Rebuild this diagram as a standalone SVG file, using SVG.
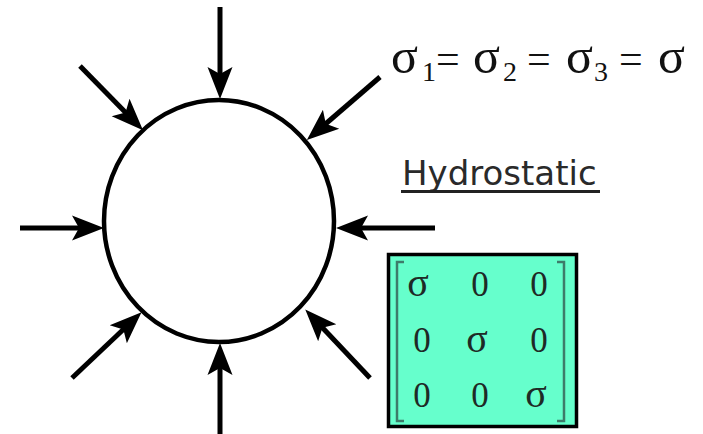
<svg xmlns="http://www.w3.org/2000/svg" width="703" height="434" viewBox="0 0 703 434">
<style>
.arr{stroke:#000;stroke-width:5;fill:none;marker-end:url(#ah)}
.eq{font-family:"Liberation Serif","Times New Roman",serif;fill:#111}
.s{font-size:50px}
.sub{font-size:28px}
.op{font-size:42px}
.m{font-family:"Liberation Serif","Times New Roman",serif;font-size:35px;fill:#1e2a26;text-anchor:middle}
.ms{font-size:40px}
.br{stroke:#3d7b6a;stroke-width:2.5;fill:none}
</style>
<defs>
<marker id="ah" markerUnits="userSpaceOnUse" orient="auto" refX="0" refY="0" markerWidth="60" markerHeight="60" viewBox="-20 -20 60 40" overflow="visible">
<path d="M20,0 L-12,-12.5 L-5,0 L-12,12.5 Z" fill="#000"/>
</marker>
</defs>
<rect width="703" height="434" fill="#fff"/>
<g id="circle">
<ellipse cx="219" cy="221" rx="115" ry="121" fill="#fff" stroke="#000" stroke-width="4.5"/>
</g>
<g id="connectors">
<line class="arr" x1="220" y1="7" x2="220" y2="79"/>
<line class="arr" x1="80" y1="66" x2="129" y2="116"/>
<line class="arr" x1="380" y1="77" x2="322" y2="127"/>
<line class="arr" x1="20" y1="228" x2="84" y2="228"/>
<line class="arr" x1="435" y1="228" x2="356" y2="228"/>
<line class="arr" x1="220" y1="434" x2="220" y2="363"/>
<line class="arr" x1="72" y1="378" x2="127" y2="326"/>
<line class="arr" x1="370" y1="378" x2="319" y2="324"/>
</g>
<g id="equation" class="eq">
<text x="391" y="73" class="s">σ</text>
<text x="422" y="81" class="sub">1</text>
<text x="436" y="73" class="op">=</text>
<text x="473" y="73" class="s">σ</text>
<text x="503" y="81" class="sub">2</text>
<text x="527" y="73" class="op">=</text>
<text x="566" y="73" class="s">σ</text>
<text x="594" y="81" class="sub">3</text>
<text x="619" y="73" class="op">=</text>
<text x="658" y="73" class="s">σ</text>
</g>
<g id="label">
<text x="402" y="185" font-family="DejaVu Sans,Verdana,sans-serif" font-size="34" fill="#2a2a2a">Hydrostatic</text>
<rect x="401" y="190" width="199" height="3" fill="#222"/>
</g>
<g id="matrix">
<rect x="388.5" y="254.5" width="188" height="172" fill="#66ffcc" stroke="#000" stroke-width="3.5"/>
<path class="br" d="M404,262 L397,262 L397,421 L404,421"/>
<path class="br" d="M557,262 L564,262 L564,421 L557,421"/>
<text class="m ms" x="418" y="296">σ</text>
<text class="m" x="480" y="296">0</text>
<text class="m" x="539" y="296">0</text>
<text class="m" x="422" y="352">0</text>
<text class="m ms" x="477" y="352">σ</text>
<text class="m" x="539" y="352">0</text>
<text class="m" x="422" y="407">0</text>
<text class="m" x="480" y="407">0</text>
<text class="m ms" x="536" y="407">σ</text>
</g>
</svg>
